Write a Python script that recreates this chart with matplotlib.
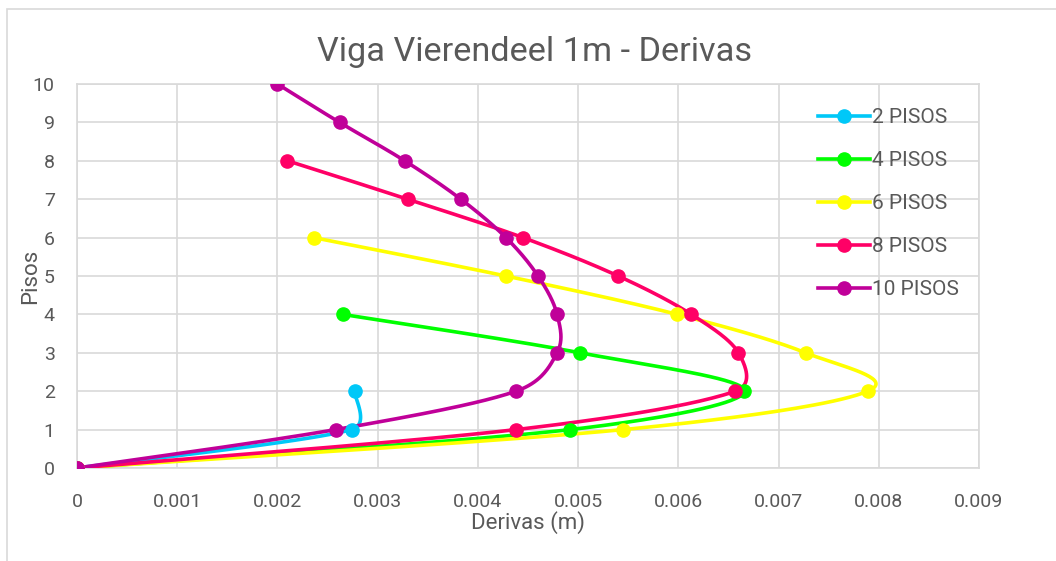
import numpy as np
import matplotlib
matplotlib.use("Agg")
import matplotlib.pyplot as plt
from matplotlib.patches import Rectangle

# ---- data ----
series_names = ["2 PISOS", "4 PISOS", "6 PISOS", "8 PISOS", "10 PISOS"]
colors = ["#00C8F8", "#00FF00", "#FFFF00", "#FF0066", "#C00099"]

drift_2 = [0, 0.00274, 0.00277]
floors_2 = [0, 1, 2]
drift_4 = [0, 0.00492, 0.00666, 0.00502, 0.00265]
floors_4 = [0, 1, 2, 3, 4]
drift_6 = [0, 0.00545, 0.00789, 0.00727, 0.00599, 0.00428, 0.00236]
floors_6 = [0, 1, 2, 3, 4, 5, 6]
drift_8 = [0, 0.00438, 0.00657, 0.00660, 0.00613, 0.00540, 0.00445, 0.00330, 0.00210]
floors_8 = [0, 1, 2, 3, 4, 5, 6, 7, 8]
drift_10 = [0, 0.00258, 0.00438, 0.00479, 0.00479, 0.00460, 0.00428, 0.00383, 0.00327, 0.00262, 0.00200]
floors_10 = [0, 1, 2, 3, 4, 5, 6, 7, 8, 9, 10]

xticks = [0, 0.001, 0.002, 0.003, 0.004, 0.005, 0.006, 0.007, 0.008, 0.009]
xticklabels = ["0", "0.001", "0.002", "0.003", "0.004", "0.005", "0.006", "0.007", "0.008", "0.009"]
yticks = list(range(0, 11))

plt.rcParams['font.family'] = ['Roboto', 'DejaVu Sans']
W, H = 1056, 561
fig = plt.figure(figsize=(W / 100, H / 100), dpi=100)
fig.patches.append(Rectangle((7 / W, -0.2), 1.2, 1.2 - 9 / H, transform=fig.transFigure,
                             fill=False, edgecolor="#D9D9D9", linewidth=1.2))
ax = fig.add_axes([77 / W, 1 - 468 / H, (979 - 77) / W, (468 - 84) / H])
ax.set_xlim(0, 0.009)
ax.set_ylim(0, 10)

text_color = "#595959"
ax.set_xticks(xticks)
ax.set_xticklabels(xticklabels)
ax.set_yticks(yticks)
ax.tick_params(axis="x", length=0, labelsize=14, colors=text_color, pad=18)
ax.tick_params(axis="y", length=0, labelsize=14, colors=text_color, pad=16)
ax.grid(True, color="#D9D9D9", linewidth=1.2)
ax.set_axisbelow(True)
for s in ax.spines.values():
    s.set_color("#D9D9D9")
    s.set_linewidth(1.2)

fig.text(535 / W, 1 - 52 / H, "Viga Vierendeel 1m - Derivas", fontsize=24.7, color=text_color,
         ha="center", va="center")
ax.set_xlabel("Derivas (m)", fontsize=16, color=text_color, labelpad=0)
ax.set_ylabel("Pisos", fontsize=16, color=text_color, labelpad=-6)


def smooth(xs, ys, n=40):
    # Excel-like smoothing: Bezier with Catmull-Rom tangents (1/6), each clamped
    # to half the segment length; computed in display space
    pts = ax.transData.transform(np.column_stack([xs, ys]))
    m = len(pts)
    out = [pts[0]]
    t = np.linspace(0, 1, n)[1:]
    for i in range(m - 1):
        p0 = pts[max(i - 1, 0)]
        p1 = pts[i]
        p2 = pts[i + 1]
        p3 = pts[min(i + 2, m - 1)]
        half = np.hypot(*(p2 - p1)) / 2.0
        d1 = (p2 - p0) / 6.0
        d2 = (p3 - p1) / 6.0
        n1 = np.hypot(*d1)
        n2 = np.hypot(*d2)
        if n1 > half:
            d1 = d1 * half / n1
        if n2 > half:
            d2 = d2 * half / n2
        c1 = p1 + d1
        c2 = p2 - d2
        seg = ((1 - t) ** 3)[:, None] * p1 + (3 * (1 - t) ** 2 * t)[:, None] * c1 \
            + (3 * (1 - t) * t ** 2)[:, None] * c2 + (t ** 3)[:, None] * p2
        out.extend(seg)
    out = np.array(out)
    return ax.transData.inverted().transform(out)


data = [(drift_2, floors_2), (drift_4, floors_4), (drift_6, floors_6),
        (drift_8, floors_8), (drift_10, floors_10)]
for (xs, ys), c, name in zip(data, colors, series_names):
    curve = smooth(xs, ys)
    ax.plot(curve[:, 0], curve[:, 1], color=c, linewidth=2.6, solid_capstyle="round", zorder=3)
    ax.plot(xs, ys, linestyle="none", marker="o", markersize=9.5, color=c, zorder=4)
    ax.plot([], [], color=c, linewidth=2.6, marker="o", markersize=9.5, label=name)

leg = ax.legend(loc="upper left", bbox_to_anchor=((810 - 77) / (979 - 77), 1 - (100 - 84) / (468 - 84)),
                frameon=False, fontsize=15, labelspacing=1.15, handlelength=2.5,
                handletextpad=0.1, borderaxespad=0)
for t in leg.get_texts():
    t.set_color(text_color)

fig.savefig("out.png", dpi=100)
